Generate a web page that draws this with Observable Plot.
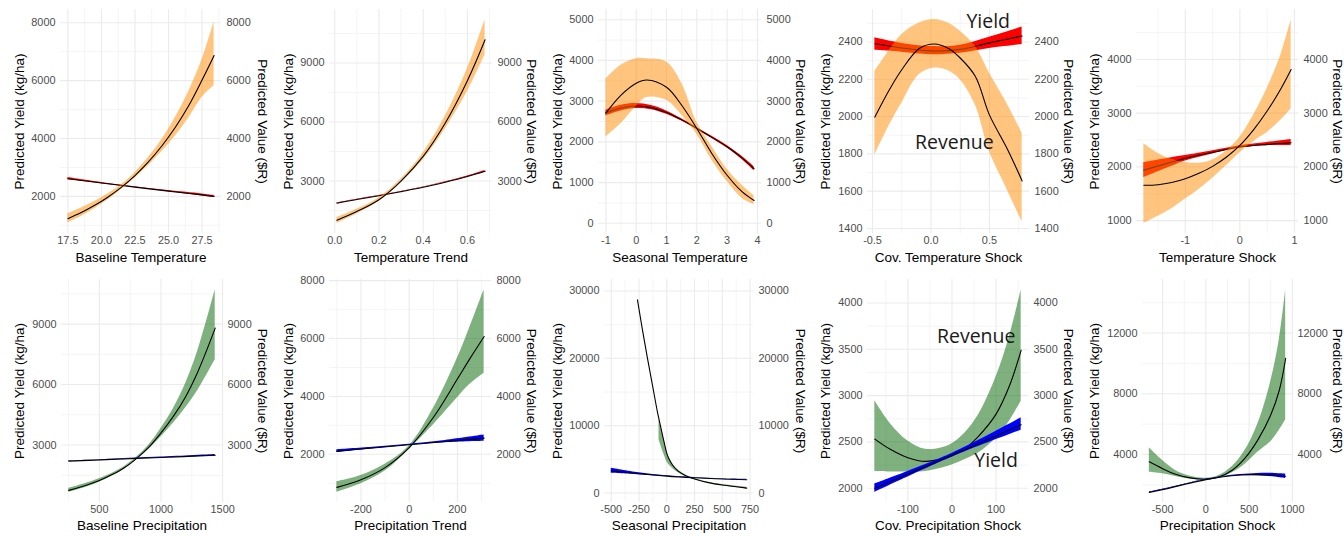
<!DOCTYPE html>
<html><head><meta charset="utf-8">
<script src="https://cdn.jsdelivr.net/npm/d3@7"></script>
<script src="https://cdn.jsdelivr.net/npm/@observablehq/plot@0.6"></script>
<style>
body{margin:0;background:#fff;}
#grid{display:grid;grid-template-columns:269px 269px 268px 269px 269px;grid-template-rows:268px 269px;width:1344px;}
#grid svg{display:block;}
</style>
</head><body><div id="grid"></div>
<script>
// ---------- titles ----------
const xTitles = ["Baseline Temperature","Temperature Trend","Seasonal Temperature","Cov. Temperature Shock","Temperature Shock",
                 "Baseline Precipitation","Precipitation Trend","Seasonal Precipitation","Cov. Precipitation Shock","Precipitation Shock"];
const leftTitle = "Predicted Yield (kg/ha)";
const rightTitle = "Predicted Value ($R)";

// ---------- P1 Baseline Temperature ----------
const p1_x = [17.5, 18.5, 19.5, 20.5, 21.5, 22.5, 23.5, 24.5, 25.5, 26.5, 27.5, 28.4];
const p1_rev = [1230, 1440, 1690, 1980, 2320, 2720, 3190, 3740, 4380, 5130, 6020, 6870];
const p1_revLo = [1080, 1300, 1570, 1880, 2240, 2630, 3060, 3540, 4080, 4700, 5420, 5820];
const p1_revHi = [1400, 1600, 1820, 2090, 2400, 2820, 3340, 3960, 4720, 5620, 6720, 8030];
const p1_yx = [17.5, 20, 22.5, 25, 27.5, 28.4];
const p1_yld = [2610, 2460, 2320, 2180, 2050, 2000];
const p1_yldLo = [2570, 2440, 2305, 2160, 2015, 1965];
const p1_yldHi = [2650, 2480, 2335, 2200, 2085, 2035];
const p1_xTicks = [17.5, 20, 22.5, 25, 27.5];
const p1_xMinor = [18.75, 21.25, 23.75, 26.25, 28.75];
const p1_yTicks = [2000, 4000, 6000, 8000];
const p1_yMinor = [1000, 3000, 5000, 7000];

// ---------- P2 Temperature Trend ----------
const p2_x = [0.01, 0.1, 0.2, 0.3, 0.4, 0.5, 0.6, 0.68];
const p2_rev = [1010, 1450, 2050, 3000, 4250, 5950, 8100, 10180];
const p2_revLo = [850, 1330, 1960, 2910, 4080, 5650, 7550, 9420];
const p2_revHi = [1150, 1570, 2140, 3100, 4430, 6300, 8700, 11200];
const p2_yx = [0.01, 0.1, 0.2, 0.3, 0.4, 0.5, 0.6, 0.68];
const p2_yld = [1870, 2060, 2250, 2460, 2680, 2940, 3230, 3500];
const p2_yldLo = [1850, 2045, 2238, 2448, 2665, 2920, 3200, 3460];
const p2_yldHi = [1890, 2075, 2262, 2472, 2695, 2960, 3260, 3540];
const p2_xTicks = [0, 0.2, 0.4, 0.6];
const p2_xMinor = [0.1, 0.3, 0.5, 0.7];
const p2_yTicks = [3000, 6000, 9000];
const p2_yMinor = [1500, 4500, 7500, 10500];

// ---------- P3 Seasonal Temperature ----------
const p3_x = [-1, -0.5, 0, 0.35, 1, 1.5, 2, 2.5, 3, 3.5, 3.89];
const p3_rev = [2710, 3150, 3440, 3520, 3340, 2900, 2330, 1710, 1180, 770, 560];
const p3_revLo = [2120, 2450, 2870, 3090, 3020, 2660, 2190, 1550, 1030, 610, 460];
const p3_revHi = [3540, 3880, 4040, 4040, 3960, 3440, 2480, 1880, 1330, 930, 680];
const p3_yx = [-1, -0.5, 0, 0.5, 1, 1.5, 2, 2.5, 3, 3.5, 3.89];
const p3_yld = [2710, 2830, 2880, 2840, 2720, 2540, 2330, 2110, 1880, 1600, 1340];
const p3_yldLo = [2640, 2760, 2820, 2790, 2680, 2510, 2305, 2085, 1850, 1560, 1290];
const p3_yldHi = [2780, 2900, 2940, 2890, 2760, 2570, 2355, 2135, 1910, 1640, 1390];
const p3_xTicks = [-1, 0, 1, 2, 3, 4];
const p3_xMinor = [-0.5, 0.5, 1.5, 2.5, 3.5];
const p3_yTicks = [0, 1000, 2000, 3000, 4000, 5000];
const p3_yMinor = [500, 1500, 2500, 3500, 4500];

// ---------- P4 Cov. Temperature Shock ----------
const p4_x = [-0.48, -0.35, -0.25, -0.1, 0.03, 0.15, 0.25, 0.38, 0.5, 0.65, 0.78];
const p4_rev = [1997, 2150, 2251, 2365, 2389, 2365, 2314, 2215, 2009, 1830, 1655];
const p4_revLo = [1794, 1960, 2072, 2225, 2260, 2245, 2197, 2060, 1812, 1610, 1436];
const p4_revHi = [2242, 2360, 2439, 2502, 2520, 2500, 2457, 2375, 2233, 2070, 1911];
const p4_yx = [-0.48, -0.25, 0, 0.25, 0.5, 0.78];
const p4_yld = [2390, 2368, 2352, 2360, 2395, 2432];
const p4_yldLo = [2355, 2345, 2332, 2340, 2365, 2386];
const p4_yldHi = [2422, 2392, 2375, 2382, 2425, 2480];
const p4_xTicks = [-0.5, 0, 0.5];
const p4_xMinor = [-0.25, 0.25, 0.75];
const p4_yTicks = [1400, 1600, 1800, 2000, 2200, 2400];
const p4_yMinor = [1500, 1700, 1900, 2100, 2300, 2500];
const p4_notes = [{x: 0.49, y: 2511, t: "Yield"}, {x: 0.2, y: 1857, t: "Revenue"}];

// ---------- P5 Temperature Shock ----------
const p5_x = [-1.76, -1.5, -1.25, -1, -0.75, -0.5, -0.25, 0, 0.25, 0.5, 0.75, 0.94];
const p5_rev = [1657, 1668, 1710, 1780, 1880, 2010, 2180, 2400, 2690, 3040, 3450, 3811];
const p5_revLo = [950, 1080, 1220, 1400, 1580, 1790, 2020, 2265, 2470, 2640, 2870, 3080];
const p5_revHi = [2430, 2250, 2140, 2080, 2070, 2130, 2290, 2550, 2960, 3460, 4080, 4740];
const p5_yx = [-1.76, -1.25, -1, -0.5, 0, 0.5, 0.94];
const p5_yld = [1940, 2090, 2160, 2270, 2370, 2420, 2450];
const p5_yldLo = [1800, 2010, 2110, 2240, 2350, 2395, 2400];
const p5_yldHi = [2080, 2170, 2210, 2300, 2395, 2455, 2510];
const p5_xTicks = [-1, 0, 1];
const p5_xMinor = [-1.5, -0.5, 0.5];
const p5_yTicks = [1000, 2000, 3000, 4000];
const p5_yMinor = [1500, 2500, 3500, 4500];

// ---------- P6 Baseline Precipitation ----------
const p6_x = [252, 400, 500, 600, 700, 784, 900, 1000, 1100, 1200, 1300, 1440];
const p6_rev = [750, 1020, 1240, 1520, 1860, 2240, 2880, 3600, 4420, 5400, 6650, 8800];
const p6_revLo = [650, 920, 1150, 1450, 1800, 2180, 2780, 3400, 4080, 4850, 5720, 7230];
const p6_revHi = [850, 1120, 1330, 1590, 1920, 2300, 2990, 3820, 4800, 6050, 7700, 10710];
const p6_yx = [252, 600, 1000, 1440];
const p6_yld = [2200, 2285, 2380, 2490];
const p6_yldLo = [2185, 2275, 2360, 2450];
const p6_yldHi = [2215, 2295, 2400, 2530];
const p6_xTicks = [500, 1000, 1500];
const p6_xMinor = [250, 750, 1250];
const p6_yTicks = [3000, 6000, 9000];
const p6_yMinor = [1500, 4500, 7500, 10500];

// ---------- P7 Precipitation Trend ----------
const p7_x = [-300, -200, -100, 0, 100, 200, 250, 311];
const p7_rev = [858, 1120, 1540, 2230, 3270, 4600, 5280, 6070];
const p7_revLo = [685, 980, 1420, 2170, 3010, 3950, 4400, 4800];
const p7_revHi = [1054, 1270, 1660, 2290, 3580, 5320, 6350, 7690];
const p7_yx = [-300, -150, 0, 150, 311];
const p7_yld = [2110, 2220, 2330, 2440, 2560];
const p7_yldLo = [2060, 2195, 2315, 2400, 2450];
const p7_yldHi = [2160, 2245, 2345, 2480, 2665];
const p7_xTicks = [-200, 0, 200];
const p7_xMinor = [-300, -100, 100, 300];
const p7_yTicks = [2000, 4000, 6000, 8000];
const p7_yMinor = [1000, 3000, 5000, 7000];

// ---------- P8 Seasonal Precipitation ----------
const p8_x = [-264, -220, -175, -130, -85, -70, -60, -40, -20, 0, 25, 50, 100, 175, 250, 375, 500, 720];
const p8_rev = [28670, 24300, 20100, 16100, 12100, 10950, 10200, 8700, 7250, 5900, 4900, 4200, 3300, 2550, 2100, 1550, 1190, 740];
const p8_revLo = [null, null, null, null, null, 7900, 7400, 6400, 5500, 4700, 4100, 3700, 3050, 2400, 2010, 1470, 1100, 610];
const p8_revHi = [null, null, null, null, null, 11000, 10300, 8900, 7450, 6100, 5100, 4400, 3450, 2650, 2170, 1620, 1270, 860];
const p8_yx = [-500, -250, 0, 250, 500, 720];
const p8_yld = [3310, 2870, 2520, 2270, 2080, 1980];
const p8_yldLo = [2950, 2720, 2460, 2230, 2040, 1930];
const p8_yldHi = [3700, 3020, 2580, 2310, 2120, 2030];
const p8_xTicks = [-500, -250, 0, 250, 500, 750];
const p8_xMinor = [-375, -125, 125, 375, 625];
const p8_yTicks = [0, 10000, 20000, 30000];
const p8_yMinor = [5000, 15000, 25000];

// ---------- P9 Cov. Precipitation Shock ----------
const p9_x = [-175, -140, -100, -60, -20, 0, 30, 60, 100, 130, 157];
const p9_rev = [2530, 2420, 2330, 2290, 2320, 2350, 2430, 2560, 2800, 3100, 3490];
const p9_revLo = [2180, 2175, 2175, 2180, 2220, 2250, 2310, 2380, 2540, 2720, 2940];
const p9_revHi = [2945, 2700, 2510, 2420, 2440, 2480, 2600, 2790, 3200, 3630, 4140];
const p9_yx = [-175, 0, 157];
const p9_yld = [2000, 2355, 2685];
const p9_yldLo = [1955, 2335, 2625];
const p9_yldHi = [2045, 2375, 2760];
const p9_xTicks = [-100, 0, 100];
const p9_xMinor = [-150, -50, 50, 150];
const p9_yTicks = [2000, 2500, 3000, 3500, 4000];
const p9_yMinor = [2250, 2750, 3250, 3750];
const p9_notes = [{x: 55, y: 3640, t: "Revenue"}, {x: 100, y: 2295, t: "Yield"}];

// ---------- P10 Precipitation Shock ----------
const p10_x = [-654, -500, -350, -200, 0, 150, 300, 450, 600, 750, 850, 923];
const p10_rev = [3520, 3070, 2700, 2480, 2380, 2520, 2950, 3750, 4950, 6600, 8250, 10340];
const p10_revLo = [2840, 2740, 2560, 2400, 2330, 2440, 2780, 3350, 4150, 4850, 5600, 6270];
const p10_revHi = [4440, 3600, 2950, 2600, 2440, 2620, 3180, 4250, 6000, 8800, 11600, 14860];
const p10_yx = [-654, -400, -200, 0, 200, 400, 600, 800, 923];
const p10_yld = [1510, 1820, 2100, 2350, 2540, 2650, 2680, 2640, 2570];
const p10_yldLo = [1490, 1800, 2085, 2335, 2520, 2610, 2600, 2520, 2420];
const p10_yldHi = [1530, 1840, 2115, 2365, 2560, 2690, 2760, 2760, 2720];
const p10_xTicks = [-500, 0, 500, 1000];
const p10_xMinor = [-250, 250, 750];
const p10_yTicks = [4000, 8000, 12000];
const p10_yMinor = [2000, 6000, 10000, 14000];

// ---------- build ----------
const f1 = d => d.toFixed(1);
const fi = d => String(d);
function rows(xs, v, lo, hi) { return xs.map((x, i) => ({x, v: v[i], lo: lo[i], hi: hi[i]})); }

const panels = [
  {w:269,h:268,mL:60,mR:48,mT:9,mB:35,top:true,xDomain:[16.95,28.95],yDomain:[716,8460],x:p1_x,rev:p1_rev,revLo:p1_revLo,revHi:p1_revHi,yx:p1_yx,yld:p1_yld,yldLo:p1_yldLo,yldHi:p1_yldHi,xT:p1_xTicks,xM:p1_xMinor,yT:p1_yTicks,yM:p1_yMinor,xf:f1},
  {w:269,h:268,mL:60,mR:46,mT:9,mB:35,top:true,xDomain:[-0.0235,0.7135],yDomain:[333,11717],x:p2_x,rev:p2_rev,revLo:p2_revLo,revHi:p2_revHi,yx:p2_yx,yld:p2_yld,yldLo:p2_yldLo,yldHi:p2_yldHi,xT:p2_xTicks,xM:p2_xMinor,yT:p2_yTicks,yM:p2_yMinor,xf:f1},
  {w:268,h:268,mL:60,mR:45,mT:9,mB:35,top:true,xDomain:[-1.245,4.135],yDomain:[-250,5250],x:p3_x,rev:p3_rev,revLo:p3_revLo,revHi:p3_revHi,yx:p3_yx,yld:p3_yld,yldLo:p3_yldLo,yldHi:p3_yldHi,xT:p3_xTicks,xM:p3_xMinor,yT:p3_yTicks,yM:p3_yMinor,xf:fi},
  {w:269,h:268,mL:61,mR:46,mT:9,mB:35,top:true,xDomain:[-0.543,0.843],yDomain:[1373,2574],x:p4_x,rev:p4_rev,revLo:p4_revLo,revHi:p4_revHi,yx:p4_yx,yld:p4_yld,yldLo:p4_yldLo,yldHi:p4_yldHi,xT:p4_xTicks,xM:p4_xMinor,yT:p4_yTicks,yM:p4_yMinor,xf:f1,notes:p4_notes},
  {w:269,h:268,mL:61,mR:46,mT:9,mB:35,top:true,xDomain:[-1.895,1.075],yDomain:[760,4930],x:p5_x,rev:p5_rev,revLo:p5_revLo,revHi:p5_revHi,yx:p5_yx,yld:p5_yld,yldLo:p5_yldLo,yldHi:p5_yldHi,xT:p5_xTicks,xM:p5_xMinor,yT:p5_yTicks,yM:p5_yMinor,xf:fi},
  {w:269,h:269,mL:61,mR:47,mT:11,mB:35,top:false,xDomain:[193,1499],yDomain:[147,11213],x:p6_x,rev:p6_rev,revLo:p6_revLo,revHi:p6_revHi,yx:p6_yx,yld:p6_yld,yldLo:p6_yldLo,yldHi:p6_yldHi,xT:p6_xTicks,xM:p6_xMinor,yT:p6_yTicks,yM:p6_yMinor,xf:fi},
  {w:269,h:269,mL:60,mR:47,mT:11,mB:35,top:false,xDomain:[-330.5,341.5],yDomain:[335,8040],x:p7_x,rev:p7_rev,revLo:p7_revLo,revHi:p7_revHi,yx:p7_yx,yld:p7_yld,yldLo:p7_yldLo,yldHi:p7_yldHi,xT:p7_xTicks,xM:p7_xMinor,yT:p7_yTicks,yM:p7_yMinor,xf:fi},
  {w:268,h:269,mL:66,mR:53,mT:11,mB:35,top:false,xDomain:[-561,781],yDomain:[-1400,31700],x:p8_x,rev:p8_rev,revLo:p8_revLo,revHi:p8_revHi,yx:p8_yx,yld:p8_yld,yldLo:p8_yldLo,yldHi:p8_yldHi,xT:p8_xTicks,xM:p8_xMinor,yT:p8_yTicks,yM:p8_yMinor,xf:fi},
  {w:269,h:269,mL:61,mR:47,mT:11,mB:35,top:false,xDomain:[-191.6,173.6],yDomain:[1846,4253],x:p9_x,rev:p9_rev,revLo:p9_revLo,revHi:p9_revHi,yx:p9_yx,yld:p9_yld,yldLo:p9_yldLo,yldHi:p9_yldHi,xT:p9_xTicks,xM:p9_xMinor,yT:p9_yTicks,yM:p9_yMinor,xf:fi,notes:p9_notes},
  {w:269,h:269,mL:67,mR:52,mT:11,mB:35,top:false,xDomain:[-733,1002],yDomain:[842,15528],x:p10_x,rev:p10_rev,revLo:p10_revLo,revHi:p10_revHi,yx:p10_yx,yld:p10_yld,yldLo:p10_yldLo,yldHi:p10_yldHi,xT:p10_xTicks,xM:p10_xMinor,yT:p10_yTicks,yM:p10_yMinor,xf:fi}
];

const grid = document.getElementById("grid");
const FONT = "'Liberation Sans', Arial, Helvetica, sans-serif";
const GRID = "#ebebeb";
const TICK = "#4d4d4d";
const CURVE = "catmull-rom";

panels.forEach((c, k) => {
  const rev = rows(c.x, c.rev, c.revLo, c.revHi);
  const revBand = rev.filter(d => d.lo != null && d.hi != null);
  const yl = rows(c.yx, c.yld, c.yldLo, c.yldHi);
  const revFill = c.top ? "darkorange" : "darkgreen";
  const yldFill = c.top ? "red" : "blue";
  const bandRev = Plot.areaY(revBand, {x: "x", y1: "lo", y2: "hi", fill: revFill, fillOpacity: 0.5, curve: CURVE});
  const lineRev = Plot.line(rev, {x: "x", y: "v", stroke: "black", strokeWidth: 1.1, curve: CURVE});
  const bandY = Plot.areaY(yl, {x: "x", y1: "lo", y2: "hi", fill: yldFill, curve: CURVE});
  const lineY = Plot.line(yl, {x: "x", y: "v", stroke: "black", strokeWidth: 1.1, curve: CURVE});
  const series = c.top ? [bandY, lineY, bandRev, lineRev] : [bandRev, lineRev, bandY, lineY];
  const right = c.w - c.mR;
  const marks = [
    Plot.gridX(c.xM, {stroke: GRID, strokeOpacity: 1, strokeWidth: 0.55}),
    Plot.gridY(c.yM, {stroke: GRID, strokeOpacity: 1, strokeWidth: 0.55}),
    Plot.gridX(c.xT, {stroke: GRID, strokeOpacity: 1, strokeWidth: 1.1}),
    Plot.gridY(c.yT, {stroke: GRID, strokeOpacity: 1, strokeWidth: 1.1}),
    ...series,
    Plot.axisX(c.xT, {tickSize: 0, tickPadding: 3, tickFormat: c.xf, fill: TICK, fontSize: 10.9, label: null}),
    Plot.axisY(c.yT, {anchor: "left", tickSize: 0, tickPadding: 5, tickFormat: fi, fill: TICK, fontSize: 10.9, label: null}),
    Plot.axisY(c.yT, {anchor: "right", tickSize: 0, tickPadding: 5, tickFormat: fi, fill: TICK, fontSize: 10.9, label: null}),
    Plot.text([xTitles[k]], {frameAnchor: "bottom", dy: c.top ? 28.5 : 27.5, fontSize: 13.5, fill: "black", textAnchor: "middle"}),
    Plot.text([leftTitle], {frameAnchor: "left", rotate: -90, dx: 19.5 - c.mL, fontSize: 13.5, fill: "black", textAnchor: "middle", lineAnchor: "middle"}),
    Plot.text([rightTitle], {frameAnchor: "right", rotate: 90, dx: 262 - right, fontSize: 13.5, fill: "black", textAnchor: "middle", lineAnchor: "middle"})
  ];
  if (c.notes) marks.push(Plot.text(c.notes, {x: "x", y: "y", text: "t", fontSize: 19.5, fontFamily: "'Open Sans', sans-serif", fill: "#1a1a1a"}));
  const svg = Plot.plot({
    width: c.w, height: c.h,
    marginLeft: c.mL, marginRight: c.mR, marginTop: c.mT, marginBottom: c.mB,
    x: {type: "linear", domain: c.xDomain},
    y: {type: "linear", domain: c.yDomain},
    style: {fontFamily: FONT, background: "white", overflow: "visible"},
    marks
  });
  grid.appendChild(svg);
});
</script>
</body></html>
